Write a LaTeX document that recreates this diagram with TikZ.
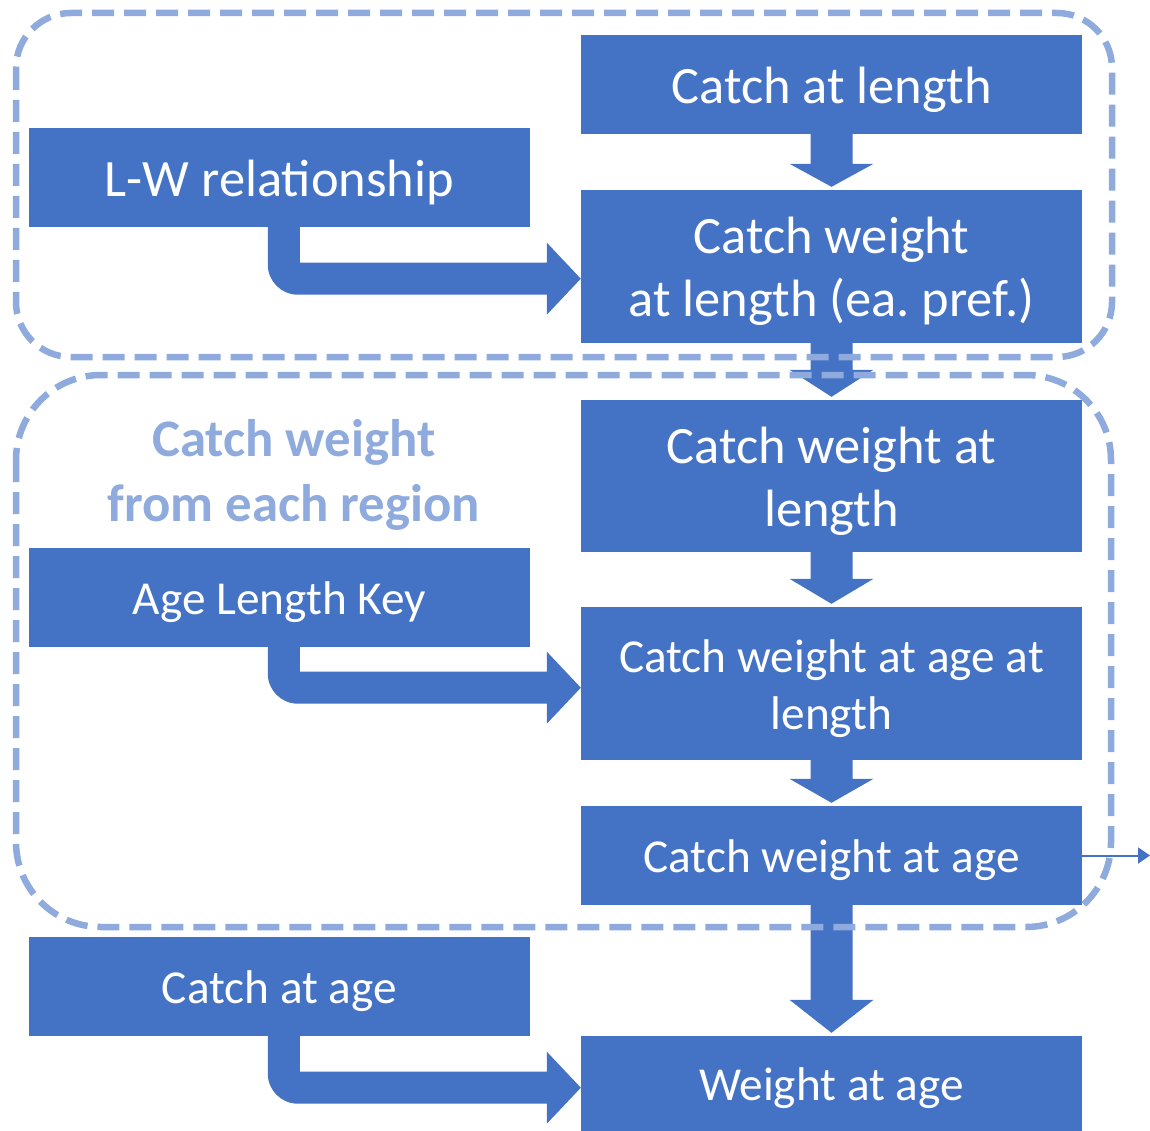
\documentclass[tikz,border=0pt]{standalone}
\usepackage{fontspec}
\setmainfont{Carlito}
\usetikzlibrary{calc,arrows.meta}
\definecolor{blk}{HTML}{4472C4}
\definecolor{lbl}{HTML}{8FAADC}
\frenchspacing
\newcommand\dnarrow[3]{%
  \fill[arr] ($(#1.south)+(-21,-1)$) -- ($(#2.north)+(-21,-#3)$) -- ($(#2.north)+(-42,-#3)$)
    -- ($(#2.north)+(0,-3)$) -- ($(#2.north)+(42,-#3)$) -- ($(#2.north)+(21,-#3)$)
    -- ($(#1.south)+(21,-1)$) -- cycle;}
\newcommand\bentarrow[3]{%
  \coordinate (c) at ($(#1.south west)+(239,#3)$);
  \coordinate (t) at (#2.west |- c);
  \fill[arr] ($(#1.south west)+(239,-1)$) -- ($(c)+(0,-14)$)
    .. controls ($(c)+(0,2.5)$) and ($(c)+(13.5,16)$) .. ($(c)+(30,16)$)
    -- ($(t)+(-34,16)$) -- ($(t)+(-34,36)$) -- (t) -- ($(t)+(-34,-36)$) -- ($(t)+(-34,-16)$)
    -- ($(c)+(32,-16)$) -- ($(#1.south west)+(271,-1)$) -- cycle;}
\newcommand\lowerby[1]{\rule{0pt}{\dimexpr\fontcharht\font`\h+#1\relax}}
\begin{document}
\begin{tikzpicture}[x=1pt,y=-1pt,
  box/.style={fill=blk, text=white, inner sep=0pt, minimum width=501pt, text width=501pt, align=flush center,
    execute at begin node={\lowerby{10pt}}},
  big/.style={font=\fontsize{52.5}{63}\selectfont},
  small/.style={font=\fontsize{47.3}{57}\selectfont},
  grp/.style={draw=lbl, line width=6.5pt, dash pattern=on 22pt off 10pt},
  arr/.style={fill=blk}]
\useasboundingbox (0,0) rectangle (1150,1131);
\node[box,big,minimum height=99pt] (cal) at (831.5,84.5) {Catch at length};
\node[box,big,minimum height=153pt] (cwl1) at (831.5,266.5) {Catch weight\\at length (ea. pref.)};
\node[box,big,minimum height=99pt] (lw) at (279.5,177.5) {L-W relationship};
\node[box,big,minimum height=152pt] (cwl2) at (831.5,476) {Catch weight at\\length};
\node[box,small,minimum height=99pt] (alk) at (279.5,597.5) {Age Length Key};
\node[box,small,minimum height=153pt] (cwal) at (831.5,683.5) {Catch weight at age at\\length};
\node[box,small,minimum height=99pt] (cwa) at (831.5,855.5) {Catch weight at age};
\node[box,small,minimum height=99pt] (caa) at (279.5,986.5) {Catch at age};
\node[box,small,minimum height=95pt] (waa) at (831.5,1083.5) {Weight at age};
\node[text=lbl, font=\fontsize{52.8}{65}\selectfont\bfseries, align=center, inner sep=0pt] (title) at (294,475) {Catch weight\\from each region};
\dnarrow{cal}{cwl1}{26}
\dnarrow{cwl1}{cwl2}{30}
\dnarrow{cwl2}{cwal}{28}
\dnarrow{cwal}{cwa}{27}
\dnarrow{cwa}{waa}{36}
\bentarrow{lw}{cwl1}{51.5}
\bentarrow{alk}{cwal}{40.5}
\bentarrow{caa}{waa}{51.5}
\coordinate (out) at (1150,855.5);
\draw[blk, line width=2pt, -{Triangle[length=12pt,width=16pt]}] (cwa.east) -- (out);
\draw[grp, rounded corners=55pt] (16,13) rectangle (1112,357);
\draw[grp, rounded corners=85pt] (16,375) rectangle (1111,927);
\end{tikzpicture}
\end{document}
